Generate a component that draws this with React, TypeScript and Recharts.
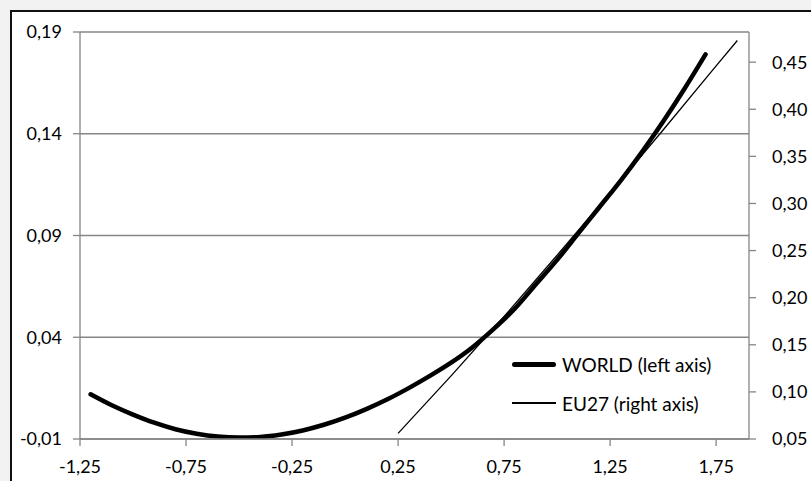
import { LineChart, Line, XAxis, YAxis, CartesianGrid } from "recharts";

// WORLD (left axis)
const worldX = [-1.2, -1.1, -1.0, -0.9, -0.8, -0.7, -0.6, -0.5, -0.4, -0.3, -0.2, -0.1, 0.0, 0.1, 0.2, 0.3, 0.4, 0.5, 0.6, 0.7, 0.8, 0.9, 1.0, 1.1, 1.2, 1.3, 1.4, 1.5, 1.6, 1.7];
const worldY = [0.012, 0.0066, 0.002, -0.002, -0.0052, -0.0074, -0.0088, -0.0093, -0.009, -0.0078, -0.0058, -0.003, 0.0005, 0.0047, 0.0095, 0.015, 0.021, 0.0275, 0.035, 0.044, 0.054, 0.066, 0.078, 0.091, 0.104, 0.117, 0.131, 0.146, 0.162, 0.179];

// EU27 (right axis)
const eu27X = [0.25, 0.5, 0.75, 1.0, 1.25, 1.5, 1.75, 1.85];
const eu27Y = [0.056, 0.117, 0.18, 0.245, 0.311, 0.378, 0.446, 0.473];

const xTicks = [-1.25, -0.75, -0.25, 0.25, 0.75, 1.25, 1.75];
const leftTicks = [-0.01, 0.04, 0.09, 0.14, 0.19];
const rightTicks = [0.05, 0.1, 0.15, 0.2, 0.25, 0.3, 0.35, 0.4, 0.45];

type Row = { x: number; world?: number; eu27?: number };

const rows: Row[] = [];
worldX.forEach((x, i) => rows.push({ x, world: worldY[i] }));
eu27X.forEach((x, i) => {
  const hit = rows.find((r) => Math.abs(r.x - x) < 1e-9);
  if (hit) hit.eu27 = eu27Y[i];
  else rows.push({ x, eu27: eu27Y[i] });
});
rows.sort((a, b) => a.x - b.x);

const fmt = (v: number) => v.toFixed(2).replace(".", ",");
const FONT = "Lato";
const GRID = "#868686";
const tickStyle = { fill: "#000", fontSize: 18, fontFamily: FONT };

export default function App() {
  return (
    <div style={{ position: "absolute", left: 0, top: 0, width: 811, height: 481, background: "#f2f2f2", overflow: "hidden" }}>
      <div
        style={{
          position: "absolute",
          left: 10,
          top: 10,
          width: 820,
          height: 500,
          background: "#fff",
          borderLeft: "2px solid #111",
          borderTop: "2px solid #111",
        }}
      />
      <div style={{ position: "absolute", left: 0, top: 0 }}>
        <LineChart width={811} height={481} data={rows} margin={{ top: 32, right: 10, bottom: 0, left: 10 }}>
          <CartesianGrid yAxisId="left" vertical={false} stroke={GRID} strokeWidth={1.3} />
          <XAxis
            type="number"
            dataKey="x"
            domain={[-1.25, 1.905]}
            ticks={xTicks}
            tickFormatter={fmt}
            allowDataOverflow
            height={42}
            tick={tickStyle}
            tickSize={7}
            tickMargin={14}
            axisLine={{ stroke: GRID, strokeWidth: 1.3 }}
            tickLine={{ stroke: GRID, strokeWidth: 1.3 }}
          />
          <YAxis
            yAxisId="left"
            orientation="left"
            type="number"
            domain={[-0.01, 0.19]}
            ticks={leftTicks}
            tickFormatter={fmt}
            allowDataOverflow
            width={70}
            tick={tickStyle}
            tickSize={7}
            tickMargin={11}
            axisLine={{ stroke: GRID, strokeWidth: 1.3 }}
            tickLine={{ stroke: GRID, strokeWidth: 1.3 }}
          />
          <YAxis
            yAxisId="right"
            orientation="right"
            type="number"
            domain={[0.05, 0.482]}
            ticks={rightTicks}
            tickFormatter={fmt}
            allowDataOverflow
            width={52}
            tick={tickStyle}
            tickSize={7}
            tickMargin={16}
            axisLine={{ stroke: GRID, strokeWidth: 1.3 }}
            tickLine={{ stroke: GRID, strokeWidth: 1.3 }}
          />
          <Line
            yAxisId="left"
            type="monotone"
            dataKey="world"
            stroke="#000"
            strokeWidth={4.5}
            strokeLinecap="round"
            dot={false}
            connectNulls
            isAnimationActive={false}
          />
          <Line
            yAxisId="right"
            type="linear"
            dataKey="eu27"
            stroke="#000"
            strokeWidth={1.3}
            dot={false}
            connectNulls
            isAnimationActive={false}
          />
        </LineChart>
      </div>
      <div style={{ position: "absolute", left: 512, top: 350, fontFamily: FONT, fontSize: 19, color: "#000" }}>
        <div style={{ display: "flex", alignItems: "center", height: 28 }}>
          <div style={{ width: 44, height: 5, background: "#000", borderRadius: 2.5, marginRight: 6 }} />
          <span>WORLD (left axis)</span>
        </div>
        <div style={{ display: "flex", alignItems: "center", height: 28, marginTop: 11 }}>
          <div style={{ width: 44, height: 1.3, background: "#000", marginRight: 6 }} />
          <span>EU27 (right axis)</span>
        </div>
      </div>
    </div>
  );
}
